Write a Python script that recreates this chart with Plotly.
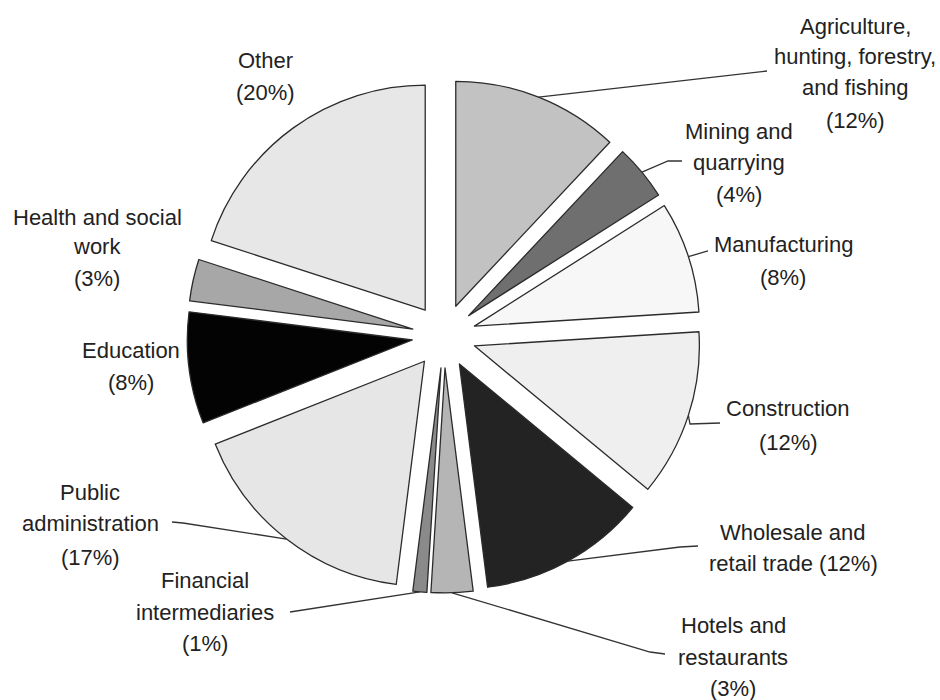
import math
import plotly.graph_objects as go

# Share of employment by sector (%), clockwise from 12 o'clock
sectors = [
    "Agriculture, hunting, forestry, and fishing",
    "Mining and quarrying",
    "Manufacturing",
    "Construction",
    "Wholesale and retail trade",
    "Hotels and restaurants",
    "Financial intermediaries",
    "Public administration",
    "Education",
    "Health and social work",
    "Other",
]
shares = [12, 4, 8, 12, 12, 3, 1, 17, 8, 3, 20]

# Label text, line by line; the percentage is appended from `shares`
label_lines = [
    ["Agriculture,", "hunting, forestry,", "and fishing"],
    ["Mining and", "quarrying"],
    ["Manufacturing"],
    ["Construction"],
    ["Wholesale and", "retail trade"],
    ["Hotels and", "restaurants"],
    ["Financial", "intermediaries"],
    ["Public", "administration"],
    ["Education"],
    ["Health and social", "work"],
    ["Other"],
]
pct_inline = [False, False, False, False, True, False, False, False, False, False, False]

# ---- styling / layout ----
W, H = 940, 700
fills = ["#c2c2c2", "#6f6f6f", "#f7f7f7", "#efefef", "#232323", "#b5b5b5",
         "#8a8a8a", "#e6e6e6", "#030303", "#a7a7a7", "#e7e7e7"]
edge = "#2b2b2b"
text_color = "#222222"
font_family = "Liberation Sans, Arial, Helvetica, sans-serif"
font_size = 22

R = 225.0          # pie radius in px
PULL = 0.142       # explode distance as a fraction of R
CX, CY = 444.0, 336.0

side = 2 * R * (1 + PULL)
dom_x = [(CX - side / 2) / W, (CX + side / 2) / W]
dom_y = [1 - (CY + side / 2) / H, 1 - (CY - side / 2) / H]

# label block placement: centre x and baseline-centre y of each line (px)
label_pos = [
    (855, [26, 57, 88, 121]),
    (739, [131, 162, 194]),
    (783, [245, 277]),
    (788, [408, 442]),
    (793, [532, 563]),
    (733, [625, 657, 688]),
    (205, [580, 612, 643]),
    (90, [492, 523, 557]),
    (131, [350, 382]),
    (97, [217, 246, 278]),
    (265, [60, 92]),
]
# leader line route: optional elbow, then end point near the label (px)
leader = [
    (None, (767, 71)),
    ((668, 161), (682, 161)),
    (None, (708, 251)),
    ((690, 424), (720, 423)),
    ((680, 547), (698, 546)),
    ((650, 652), (665, 654)),
    (None, (290, 612)),
    ((183, 523), (172, 522)),
    None,
    None,
    None,
]


def to_paper(px, py):
    return px / W, 1 - py / H


fig = go.Figure(
    go.Pie(
        labels=sectors,
        values=shares,
        sort=False,
        direction="clockwise",
        rotation=0,
        pull=[PULL] * len(shares),
        marker=dict(colors=fills, line=dict(color=edge, width=1.3)),
        textinfo="none",
        hoverinfo="label+percent",
        showlegend=False,
        domain=dict(x=dom_x, y=dom_y),
    )
)

annotations = []
shapes = []
total = sum(shares)
cum = 0.0
for i, v in enumerate(shares):
    a0 = cum / total * 360
    cum += v
    a1 = cum / total * 360
    mid = math.radians((a0 + a1) / 2)

    # text lines
    lines = list(label_lines[i])
    pct = f"({v}%)"
    if pct_inline[i]:
        lines[-1] = f"{lines[-1]} {pct}"
    else:
        lines.append(pct)
    lx, ys = label_pos[i]
    for txt, ly in zip(lines, ys):
        x, y = to_paper(lx, ly)
        annotations.append(dict(
            x=x, y=y, xref="paper", yref="paper", text=txt, showarrow=False,
            xanchor="center", yanchor="middle",
            font=dict(family=font_family, size=font_size, color=text_color),
        ))

    # leader line from the middle of the exploded slice's arc
    if leader[i] is not None:
        rr = R * (1 + PULL)
        sx, sy = CX + rr * math.sin(mid), CY - rr * math.cos(mid)
        elbow, end = leader[i]
        pts = [(sx, sy)] + ([elbow] if elbow else []) + [end]
        path = ""
        for k, (px, py) in enumerate(pts):
            x, y = to_paper(px, py)
            path += ("M" if k == 0 else " L") + f" {x:.5f},{y:.5f}"
        shapes.append(dict(type="path", path=path, xref="paper", yref="paper",
                           line=dict(color="#333333", width=1.3)))

fig.update_layout(
    width=W, height=H,
    margin=dict(l=0, r=0, t=0, b=0),
    paper_bgcolor="white",
    plot_bgcolor="white",
    annotations=annotations,
    shapes=shapes,
)

fig.write_html("out.html")
